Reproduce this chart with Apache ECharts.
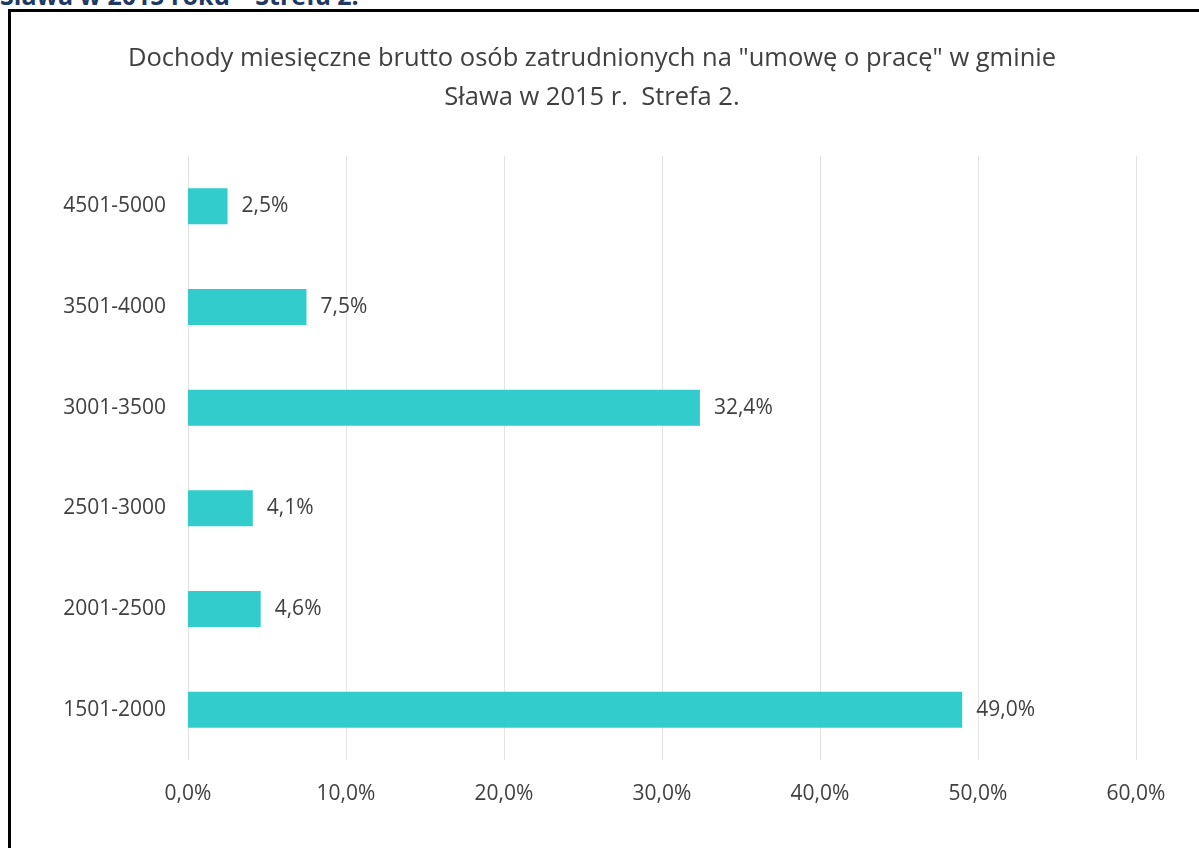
<!DOCTYPE html>
<html>
<head>
<meta charset="utf-8">
<script src="https://cdn.jsdelivr.net/npm/echarts@6/dist/echarts.min.js"></script>
<style>
  html, body { margin: 0; padding: 0; background: #fff; overflow: hidden; }
  #page { position: relative; width: 1199px; height: 848px; overflow: hidden; }
  #heading {
    position: absolute; left: 0; top: -20px; line-height: 30px;
    font-family: "Open Sans", sans-serif; font-weight: bold; font-size: 25px;
    color: #1F3864; white-space: nowrap;
  }
  #frame {
    position: absolute; left: 8px; top: 9px; width: 1300px; height: 900px;
    border-left: 3px solid #000; border-top: 3px solid #000;
  }
  #chart { position: absolute; left: 0; top: 0; width: 1199px; height: 848px; }
</style>
</head>
<body>
<div id="page">
  <div id="heading">Sława w 2015 roku – Strefa 2.</div>
  <div id="frame"></div>
  <div id="chart"></div>
</div>
<script>
// przedziały dochodów (od dołu do góry)
var categories = ['1501-2000', '2001-2500', '2501-3000', '3001-3500', '3501-4000', '4501-5000'];
// udział w procentach
var values = [49.0, 4.6, 4.1, 32.4, 7.5, 2.5];
var titleText = 'Dochody miesięczne brutto osób zatrudnionych na "umowę o pracę" w gminie\nSława w 2015 r.  Strefa 2.';

var fmt = function (v) {
    return v.toFixed(1).replace('.', ',') + '%';
};

var chart = echarts.init(document.getElementById('chart'));

var option = {
    animation: false,
    title: {
        text: titleText,
        left: 592,
        textAlign: 'center',
        top: 39,
        padding: 0,
        textStyle: {
            fontFamily: 'Open Sans',
            fontWeight: 'normal',
            fontSize: 25.5,
            lineHeight: 39,
            color: '#404040'
        }
    },
    grid: {
        left: 188,
        right: 63,
        top: 156,
        bottom: 88,
        containLabel: false
    },
    xAxis: {
        type: 'value',
        min: 0,
        max: 60,
        interval: 10,
        axisLine: { show: false },
        axisTick: { show: false },
        splitLine: { lineStyle: { color: '#E3E3E3', width: 1 } },
        axisLabel: {
            margin: 24,
            fontFamily: 'Open Sans',
            fontSize: 21,
            color: '#404040',
            formatter: function (v) { return fmt(v); }
        }
    },
    yAxis: {
        type: 'category',
        data: categories,
        axisLine: { show: true, lineStyle: { color: '#E3E3E3' } },
        axisTick: { show: false },
        axisLabel: {
            margin: 22,
            fontFamily: 'Open Sans',
            fontSize: 21,
            color: '#404040'
        }
    },
    series: [{
        type: 'bar',
        data: values,
        barWidth: 36,
        itemStyle: { color: '#33CCCC' },
        label: {
            show: true,
            position: 'right',
            distance: 14,
            fontFamily: 'Open Sans',
            fontSize: 21,
            color: '#404040',
            formatter: function (p) { return fmt(p.value); }
        }
    }]
};

chart.setOption(option);
</script>
</body>
</html>
